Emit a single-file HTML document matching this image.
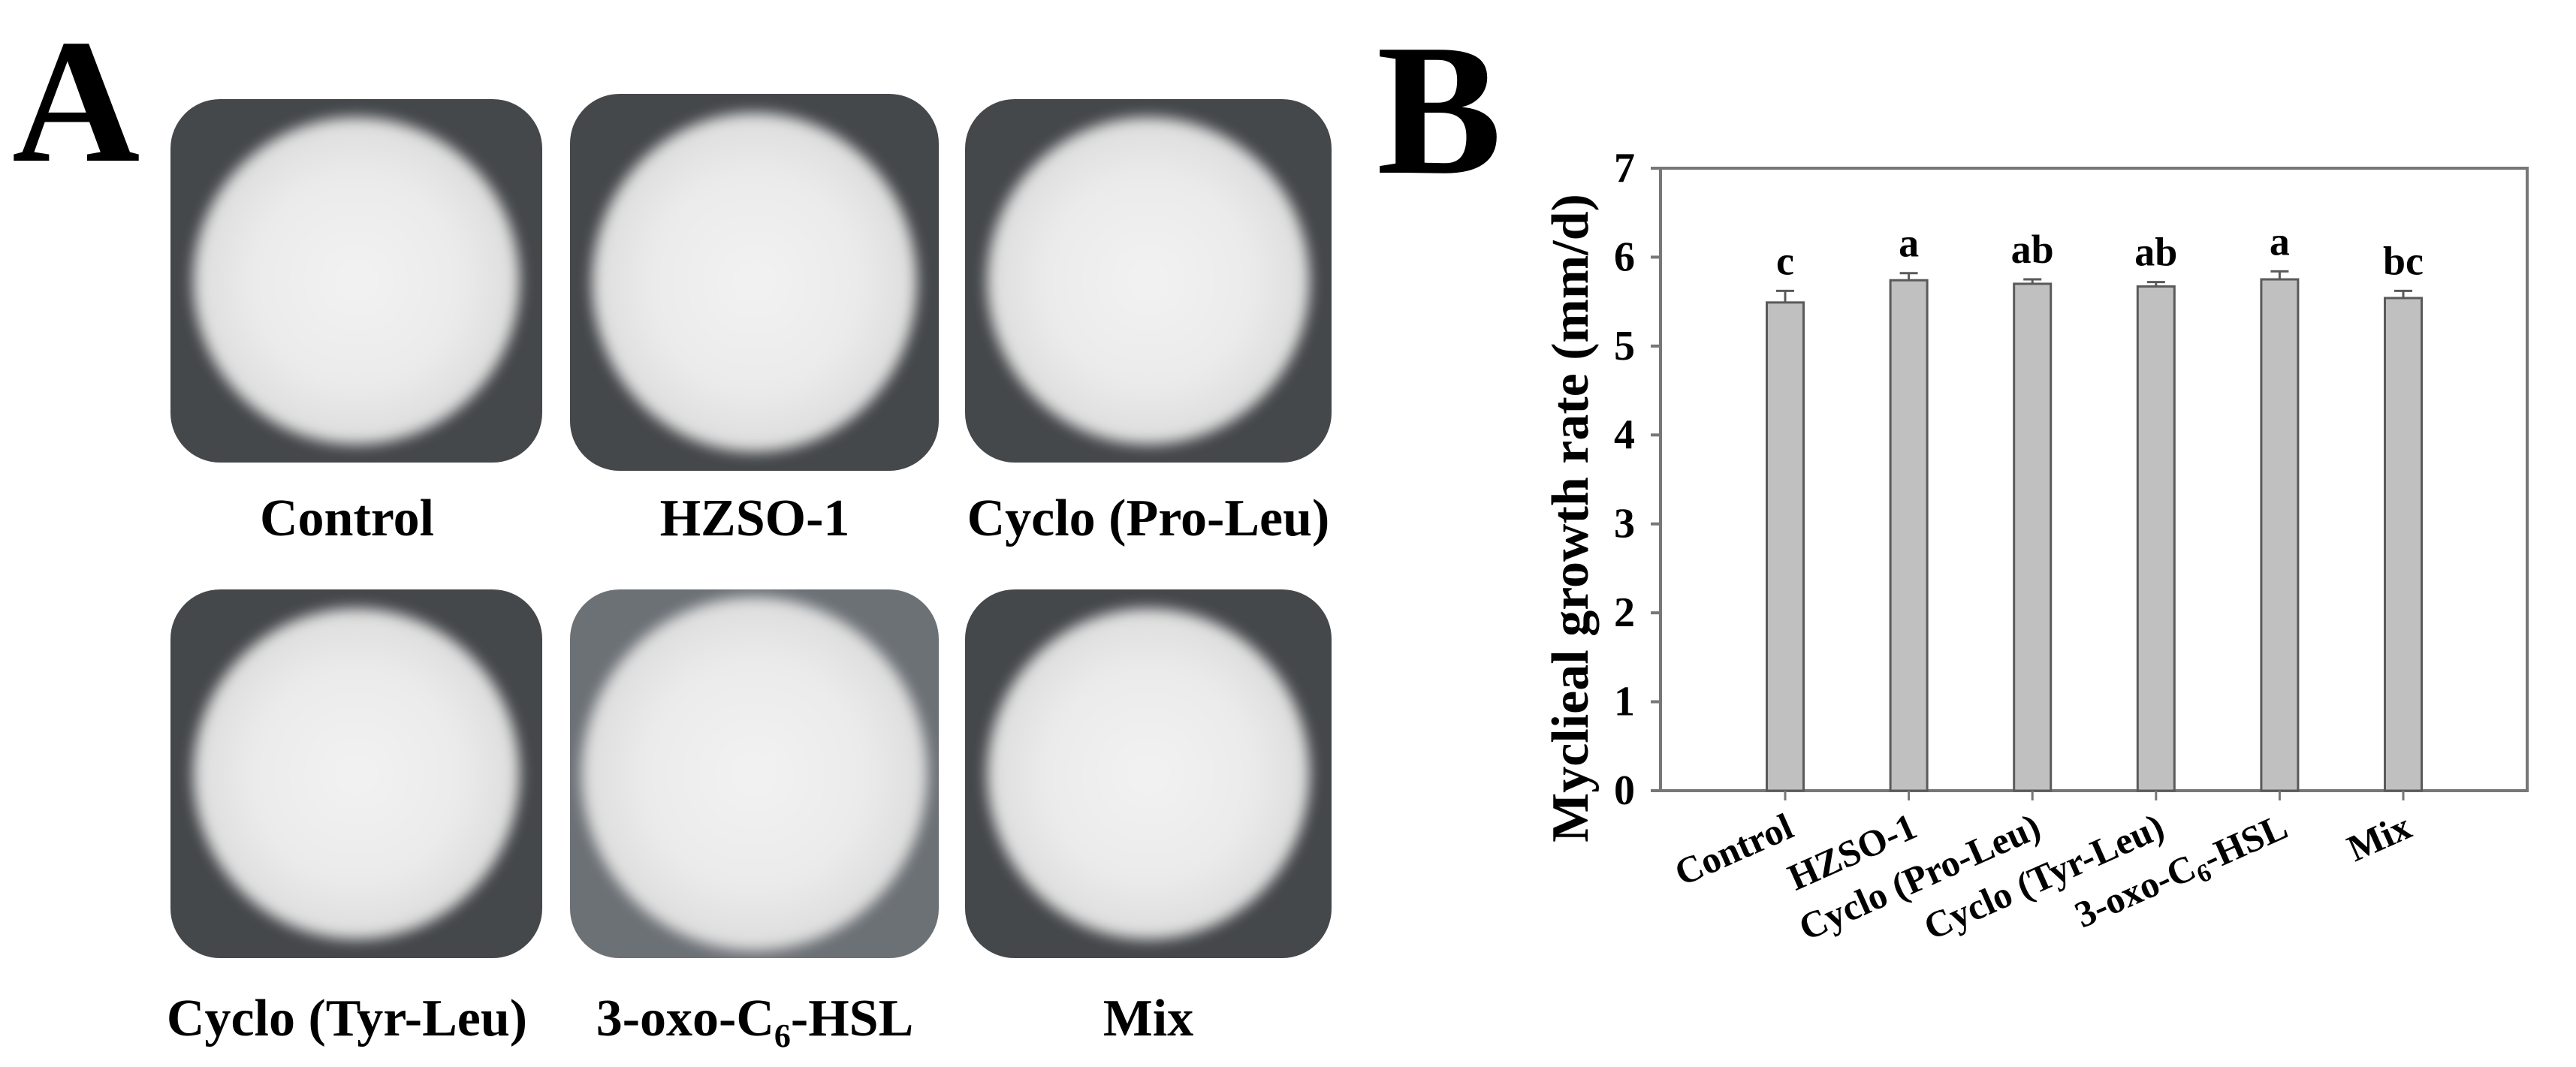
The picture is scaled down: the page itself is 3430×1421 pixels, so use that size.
<!DOCTYPE html>
<html><head><meta charset="utf-8">
<style>
html,body{margin:0;padding:0;background:#fff;}
body{width:3430px;height:1421px;position:relative;overflow:hidden;font-family:"Liberation Serif",serif;}
.panel{position:absolute;font-weight:bold;color:#000;font-family:"Liberation Serif",serif;line-height:1;}
.plate{position:absolute;border-radius:66px;overflow:hidden;background:#45484b;}
.plate .fung{position:absolute;left:6%;top:5%;width:88%;height:90%;border-radius:50%;
 background:radial-gradient(ellipse at center,#f2f2f2 0%,#ebebeb 45%,#dedede 68%,rgba(205,205,205,0.75) 82%,rgba(150,150,150,0.2) 95%,rgba(120,120,120,0) 100%);filter:blur(9px);}
.plab{position:absolute;font-size:70px;font-weight:bold;text-align:center;width:600px;line-height:1;}
</style></head><body>
<div class="panel" style="left:16px;top:18px;font-size:236px;">A</div>
<div class="panel" style="left:1833px;top:22px;font-size:250px;">B</div>

<div class="plate" style="left:227px;top:132px;width:495px;height:484px;"><div class="fung"></div></div>
<div class="plate" style="left:759px;top:125px;width:491px;height:502px;"><div class="fung"></div></div>
<div class="plate" style="left:1285px;top:132px;width:488px;height:484px;"><div class="fung"></div></div>
<div class="plate" style="left:227px;top:785px;width:495px;height:491px;"><div class="fung"></div></div>
<div class="plate" style="left:759px;top:785px;width:491px;height:491px;background:#6c7176;"><div class="fung" style="left:3%;top:2%;width:94%;height:96%;"></div></div>
<div class="plate" style="left:1285px;top:785px;width:488px;height:491px;"><div class="fung"></div></div>

<div class="plab" style="left:162px;top:656px;">Control</div>
<div class="plab" style="left:705px;top:656px;">HZSO-1</div>
<div class="plab" style="left:1229px;top:656px;">Cyclo (Pro-Leu)</div>
<div class="plab" style="left:162px;top:1322px;">Cyclo (Tyr-Leu)</div>
<div class="plab" style="left:705px;top:1322px;">3-oxo-C<sub style="font-size:44px;">6</sub>-HSL</div>
<div class="plab" style="left:1229px;top:1322px;">Mix</div>

<svg id="chart" width="3430" height="1421" style="position:absolute;left:0;top:0;" xmlns="http://www.w3.org/2000/svg"></svg>
<script>
const categories=["Control","HZSO-1","Cyclo (Pro-Leu)","Cyclo (Tyr-Leu)","3-oxo-C6-HSL","Mix"];
const values=[5.49,5.74,5.70,5.67,5.75,5.54];
const errors=[0.13,0.08,0.05,0.05,0.09,0.08];
const letters=["c","a","ab","ab","a","bc"];
const yTicks=[0,1,2,3,4,5,6,7];

const svg=document.getElementById('chart');
const NS="http://www.w3.org/2000/svg";
const L=2211,R=3365,T=224,B=1053,yMax=7;
const y=v=>B-(v/yMax)*(B-T);
const x0=2377,step=164.6;
const x=i=>x0+i*step;
const bw=49;
function mk(tag,attrs){const e=document.createElementNS(NS,tag);for(const k in attrs)e.setAttribute(k,attrs[k]);svg.appendChild(e);return e;}

const frame=mk('rect',{x:L,y:T,width:R-L,height:B-T,fill:'none',stroke:'#777',"stroke-width":4});



yTicks.forEach(t=>{
  const tk=mk('line',{x1:L-13,x2:L,y1:y(t),y2:y(t),stroke:'#777',"stroke-width":4});
  
  
  const tl=mk('text',{x:L-48,y:y(t)+18,"text-anchor":'middle',"font-size":56,"font-weight":'bold',"font-family":'Liberation Serif, serif'});
  tl.textContent=t;
  
  
});

const yt=mk('text',{x:0,y:0,"text-anchor":'middle',"font-size":70,"font-weight":'bold',"font-family":'Liberation Serif, serif',transform:'translate(2114,690) rotate(-90)'});
yt.textContent='Myclieal growth rate (mm/d)';



categories.forEach((c,i)=>{
  const cx=x(i);
  const bar=mk('rect',{x:cx-bw/2,y:y(values[i]),width:bw,height:B-y(values[i]),fill:'#c0c0c0',stroke:'#5a5a5a',"stroke-width":3});
  
  
  const top=y(values[i]+errors[i]);
  const ev=mk('line',{x1:cx,x2:cx,y1:y(values[i]),y2:top,stroke:'#5a5a5a',"stroke-width":3});
  
  
  const ec=mk('line',{x1:cx-12,x2:cx+12,y1:top,y2:top,stroke:'#5a5a5a',"stroke-width":3});
  
  
  const lt=mk('text',{x:cx,y:top-22,"text-anchor":'middle',"font-size":54,"font-weight":'bold',"font-family":'Liberation Serif, serif'});
  lt.textContent=letters[i];
  
  
  const xt=mk('line',{x1:cx,x2:cx,y1:B,y2:B+13,stroke:'#777',"stroke-width":3});
  
  
  const xl=mk('text',{x:0,y:0,"text-anchor":'end',"font-size":50,"font-weight":'bold',"font-family":'Liberation Serif, serif',transform:'translate('+(cx+14)+','+(B+60)+') rotate(-24)'});
  if(c==="3-oxo-C6-HSL"){
    xl.appendChild(document.createTextNode('3-oxo-C'));
    const s=document.createElementNS(NS,'tspan');s.setAttribute('font-size','34');s.setAttribute('dy','10');s.textContent='6';xl.appendChild(s);
    const s2=document.createElementNS(NS,'tspan');s2.setAttribute('dy','-10');s2.textContent='-HSL';xl.appendChild(s2);
  } else xl.textContent=c;
  
  
});
</script>
</body></html>
